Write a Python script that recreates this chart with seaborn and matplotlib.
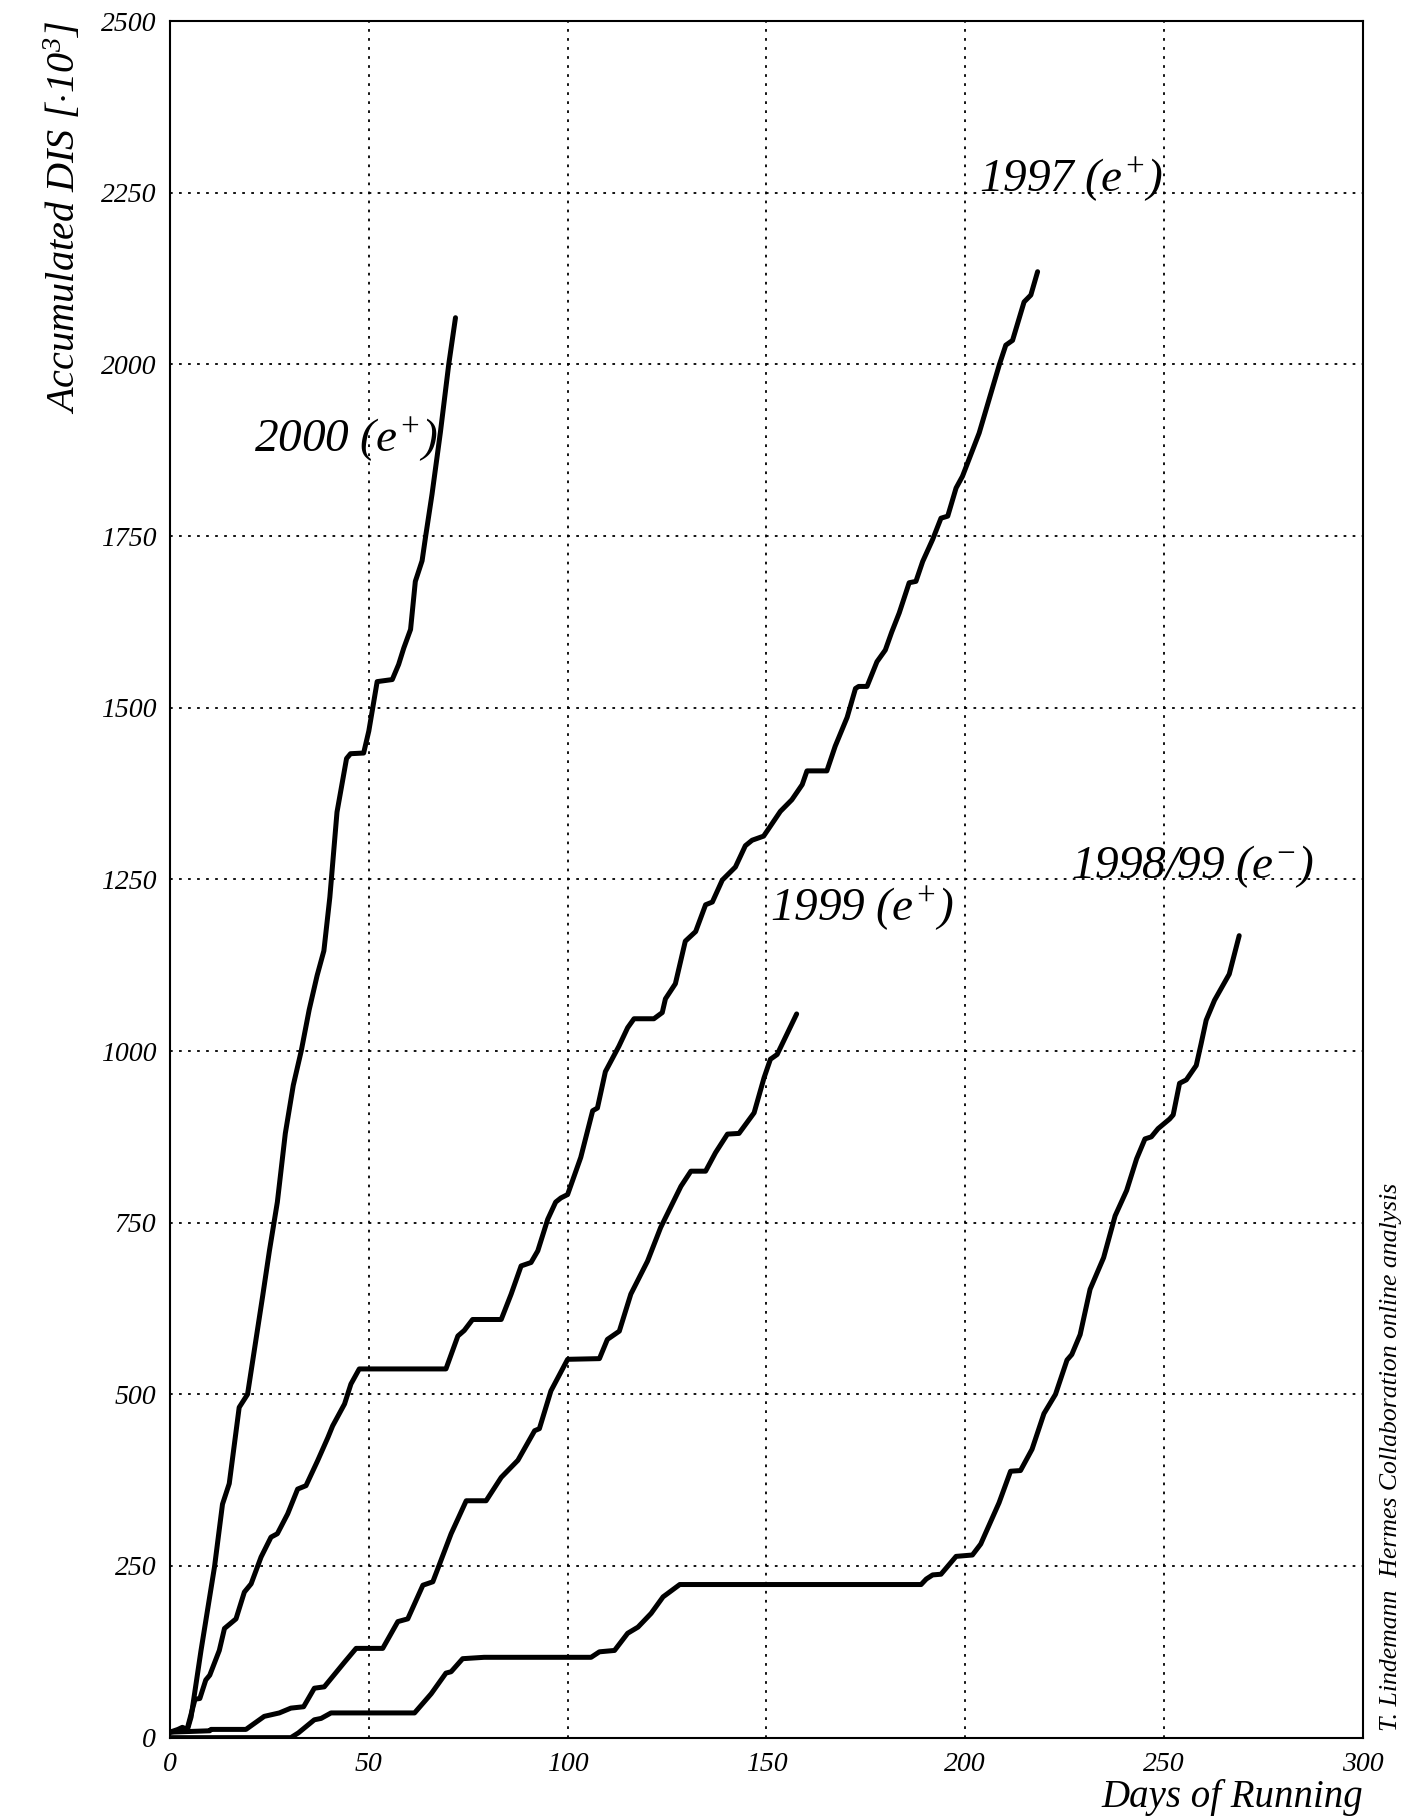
import pandas as pd
import matplotlib
matplotlib.use('Agg')
import matplotlib.pyplot as plt
from matplotlib.ticker import MultipleLocator
import seaborn as sns
import numpy as np

# accumulated DIS events [10^3] vs days of running
days_2000 = [0, 2, 3.1, 4.4, 5.3, 7.8, 11.2, 13.2, 14.9, 17.4, 19.5, 23.3, 25, 27, 29, 31, 33, 35, 37,
             38.7, 40.2, 42, 44.4, 45.4, 48.7, 50, 52.1, 55.9, 57.5, 58.8, 60.5, 61.7, 63.4, 64.3,
             65.9, 68, 70.1, 71.8]
dis_2000 = [8, 12, 15, 12, 30, 127, 249, 340, 370, 481, 500, 643, 709, 780, 880, 950, 1000, 1060, 1110,
            1146, 1224, 1348, 1426, 1433, 1434, 1466, 1538, 1541, 1563, 1587, 1614, 1684, 1714, 1750,
            1811, 1901, 2000, 2068]

days_1997 = [0, 2, 4.2, 6.3, 7.5, 9, 10, 12.4, 13.7, 16.6, 18.7, 20.4, 22.9, 25.4, 27, 29.6, 32.1, 34.2,
             37.1, 39.7, 40.9, 43.9, 45.5, 47.6, 69.4, 72.4, 74, 76.1, 83.3, 85.8, 88.3, 90.8, 92.5, 95,
             97, 98.3, 100, 103.3, 106.3, 107.5, 109.5, 112.9, 115.1, 116.7, 121.7, 123.8, 124.6, 127.1,
             129.6, 132.2, 134.7, 136.4, 138.9, 142.2, 144.7, 146.4, 149.3, 153.5, 156.4, 159, 160.2,
             165.2, 167.3, 170.3, 172.4, 173.2, 175.3, 177.8, 179.9, 181.5, 183.4, 185.9, 187.6, 189.3,
             191.8, 193.9, 195.6, 197.7, 199.3, 203.5, 208.6, 210.2, 211.9, 214.8, 216.5, 218.2]
dis_1997 = [8, 10, 10, 56, 57, 84, 91, 127, 159, 173, 212, 224, 263, 292, 297, 326, 362, 367,
            403, 437, 454, 486, 515, 537, 537, 585, 593, 609, 609, 646, 687, 692, 709, 755,
            780, 786, 791, 845, 913, 917, 970, 1007, 1034, 1047, 1047, 1056, 1076, 1098,
            1160, 1174, 1213, 1217, 1249, 1268, 1299, 1307, 1313, 1349, 1366, 1388, 1408,
            1408, 1444, 1486, 1528, 1531, 1531, 1567, 1584, 1610, 1638, 1682, 1684, 1713,
            1745, 1776, 1779, 1820, 1837, 1900, 2000, 2028, 2035, 2091, 2101, 2135]

days_1999 = [0, 10, 10.3, 19.1, 23.7, 27.5, 30.4, 33.6, 36.3, 38.8, 43.9, 46.8, 53.5, 57.3, 59.8, 63.6,
             66.1, 70.7, 74.5, 79.5, 83.3, 87.5, 91.7, 92.9, 95.8, 100, 108, 110, 113, 115.9, 118,
             120.1, 123.4, 128.5, 131, 134.7, 137.2, 140.2, 143.1, 146.9, 149.4, 151, 152.7, 157.6]
dis_1999 = [8, 10, 12, 12, 31, 36, 43, 45, 72, 74, 110, 130, 130, 169, 173, 222,
            227, 297, 345, 345, 379, 404, 447, 450, 505, 551, 552, 580, 592, 646, 670,
            694, 743, 803, 825, 825, 852, 879, 880, 910, 961, 988, 995, 1054]

days_1998 = [0, 30.4, 32.3, 36.3, 38, 40.5, 61.5, 65.7, 69.4, 70.7, 73.6, 79, 105.9, 108, 111.8, 115.1,
             117.7, 121, 124, 128.2, 188.9, 190.2, 191.8, 193.9, 197.7, 201.8, 203.9, 205.2, 208.5,
             211.4, 213.9, 216.8, 219.8, 222.7, 225.6, 226.8, 228.9, 231.4, 234.8, 237.7, 240.6,
             243.1, 245.2, 246.8, 248.5, 251.4, 252.3, 253.9, 255.6, 258.1, 259.3, 260.6, 262.7,
             266.4, 268.9]
dis_1998 = [0, 0, 7, 26, 28, 36, 36, 64, 94, 96, 115, 117, 117, 125, 127, 152,
            161, 181, 205, 223, 223, 231, 237, 238, 264, 266, 282, 299, 342,
            388, 389, 420, 472, 500, 550, 558, 587, 653, 699, 760, 797,
            843, 872, 875, 887, 901, 907, 953, 958, 979, 1010, 1045, 1074,
            1112, 1168]

# label text, anchor (left edge day, centre value)
labels = [r'$2000\ (e^{+})$', r'$1997\ (e^{+})$', r'$1999\ (e^{+})$', r'$1998/99\ (e^{-})$']
label_x = [21, 203.5, 151, 226.5]
label_y = [1890, 2268, 1206, 1268]

sns.set_style('white')
plt.rcParams['font.family'] = ['Liberation Serif', 'DejaVu Serif']
plt.rcParams['font.style'] = 'italic'
plt.rcParams['mathtext.fontset'] = 'custom'
plt.rcParams['mathtext.rm'] = 'Liberation Serif:italic'
plt.rcParams['mathtext.it'] = 'Liberation Serif:italic'
for key in ['text.color', 'axes.labelcolor', 'xtick.color', 'ytick.color', 'axes.edgecolor']:
    plt.rcParams[key] = 'black'

fig = plt.figure(figsize=(14.05, 18.18), dpi=100)
ax = fig.add_axes([0.121, 0.0442, 0.849, 0.9442])

series = [(days_2000, dis_2000), (days_1997, dis_1997), (days_1999, dis_1999), (days_1998, dis_1998)]
for d, v in series:
    df = pd.DataFrame({'day': d, 'dis': v})
    sns.lineplot(data=df, x='day', y='dis', ax=ax, color='black', linewidth=3.6,
                 sort=False, estimator=None, solid_joinstyle='round')

ax.set_xlim(0, 300)
ax.set_ylim(0, 2500)
ax.xaxis.set_major_locator(MultipleLocator(50))
ax.xaxis.set_minor_locator(MultipleLocator(10))
ax.yaxis.set_major_locator(MultipleLocator(250))
ax.yaxis.set_minor_locator(MultipleLocator(50))
ax.tick_params(which='both', direction='in', top=False, right=False, colors='black')
ax.tick_params(which='major', length=18, width=1.2, labelsize=20, pad=10)
ax.tick_params(which='minor', length=10, width=1.2)
for lab in ax.get_xticklabels() + ax.get_yticklabels():
    lab.set_fontstyle('italic')

ax.grid(True, which='major', color='black', linestyle=(0, (1.5, 3.5)), linewidth=1.3)
for s in ax.spines.values():
    s.set_color('black')
    s.set_linewidth(1.5)

ax.set_xlabel('Days of Running', fontsize=28, loc='right', labelpad=2)
ax.set_ylabel(r'Accumulated DIS [$\cdot$10$^{3}$]', fontsize=29, loc='top', labelpad=12)

for t, x, y in zip(labels, label_x, label_y):
    ax.text(x, y, t, fontsize=34, ha='left', va='center')

fig.text(0.99, 0.048, 'T. Lindemann  Hermes Collaboration online analysis', rotation=90,
         fontsize=18.5, ha='center', va='bottom', fontstyle='italic')

plt.savefig('out.png', dpi=100)
